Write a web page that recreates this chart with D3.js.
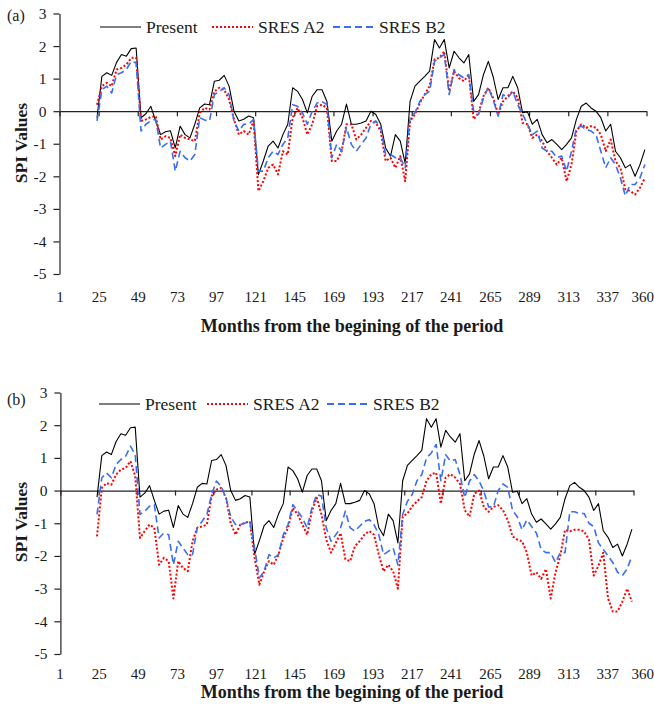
<!DOCTYPE html>
<html>
<head>
<meta charset="utf-8">
<script src="https://cdn.jsdelivr.net/npm/d3@7"></script>
<style>
  body { margin: 0; background: #fff; }
  svg text { font-family: "Liberation Serif", "DejaVu Serif", serif; fill: #1a1a1a; }
</style>
</head>
<body>
<div id="chart"></div>
<script>
// x grid: every third month, from month 24 to month 360
const months = d3.range(24, 361, 3);

const tickMonths = [1, 25, 49, 73, 97, 121, 145, 169, 193, 217, 241, 265, 289, 313, 337, 361];
const tickLabels = ["1", "25", "49", "73", "97", "121", "145", "169", "193", "217", "241", "265", "289", "313", "337", "360"];
const yTicks = [-5, -4, -3, -2, -1, 0, 1, 2, 3];

// SPI, present climate (same in both panels)
const present = [
  -0.2, 1.07, 1.18, 1.1, 1.5, 1.74, 1.69, 1.92, 1.94, -0.2,
  -0.08, 0.15, -0.3, -0.72, -0.63, -0.6, -1.13, -0.46, -0.72, -0.82,
  -0.4, 0.1, 0.22, 0.2, 0.92, 0.95, 1.1, 0.77, 0.0, -0.3,
  -0.25, -0.15, -0.2, -1.95, -1.53, -1.07, -0.92, -1.13, -0.72, -0.4,
  0.72, 0.61, 0.36, -0.05, 0.46, 0.66, 0.66, 0.3, -0.92, -0.61,
  -0.4, 0.22, -0.4, -0.4, -0.36, -0.3, 0.0, -0.1, -0.4, -1.13,
  -1.38, -0.72, -0.92, -1.6, 0.3, 0.77, 0.92, 1.07, 1.23, 2.2,
  1.94, 2.2, 1.33, 1.84, 1.64, 1.48, 1.74, 0.3, 0.51, 1.12,
  1.53, 1.05, 0.36, 0.72, 0.72, 1.07, 0.72, -0.05, -0.02, -0.4,
  -0.25, -0.72, -0.97, -0.87, -1.02, -1.18, -1.02, -0.82, -0.25, 0.15,
  0.25, 0.1, 0.0, -0.2, -0.61, -0.4, -1.23, -1.43, -1.74, -1.64,
  -2.0, -1.64, -1.18
];

// panel (a)
const a2PanelA = [
  0.2, 0.77, 0.87, 0.77, 1.28, 1.33, 1.43, 1.64, 1.64, -0.3,
  -0.25, -0.18, -0.15, -0.87, -0.77, -0.82, -1.38, -0.72, -0.82, -0.87,
  -0.92, -0.05, 0.1, 0.05, 0.61, 0.72, 0.66, 0.36, -0.25, -0.72,
  -0.61, -0.72, -0.3, -2.45, -2.15, -1.74, -1.64, -1.94, -1.23, -1.33,
  -0.2, 0.1, -0.2, -0.72, -0.4, 0.15, 0.2, 0.1, -1.53, -1.53,
  -1.23, -0.4, -0.4, -0.87, -0.72, -0.51, -0.3, -0.36, -0.61, -1.53,
  -1.43, -1.74, -1.38, -2.15, -0.3, -0.1, 0.25, 0.51, 0.77, 1.59,
  1.64, 1.84, 0.61, 1.23, 1.02, 0.92, 1.12, -0.25, -0.05, 0.46,
  0.72, 0.4, -0.1, 0.3, 0.46, 0.61, 0.41, -0.36, -0.4, -0.82,
  -0.72, -0.92, -1.23, -1.43, -1.64, -1.43, -2.15, -1.64, -0.61, -0.4,
  -0.51, -0.46, -0.51, -0.72, -1.23, -0.87, -1.53, -1.74, -2.4, -2.45,
  -2.56, -2.35, -2.05
];
const b2PanelA = [
  -0.3, 0.66, 0.77, 0.56, 1.12, 1.18, 1.28, 1.53, 1.48, -0.61,
  -0.4, -0.3, -0.25, -1.13, -1.02, -0.92, -1.84, -1.23, -1.43, -1.53,
  -1.33, -0.2, -0.27, -0.3, 0.51, 0.61, 0.72, 0.51, -0.3, -0.61,
  -0.4, -0.4, -0.25, -1.84, -1.84, -1.43, -1.23, -1.33, -1.02, -0.82,
  0.2, 0.15, -0.05, -0.4, 0.0, 0.25, 0.3, 0.2, -1.43, -1.02,
  -1.23, -0.5, -1.02, -1.23, -1.02, -0.82, -0.4, -0.3, -0.51, -1.33,
  -1.33, -1.43, -1.43, -1.74, -0.2, -0.05, 0.3, 0.51, 0.61, 1.53,
  1.64, 1.74, 0.51, 1.28, 1.12, 1.02, 1.12, 0.0, -0.1, 0.41,
  0.72, 0.35, -0.15, 0.51, 0.41, 0.61, 0.2, -0.1, -0.4, -0.72,
  -0.61, -1.13, -1.23, -1.23, -1.43, -1.38, -1.84, -1.23, -0.51, -0.46,
  -0.56, -0.61, -0.72, -1.23, -1.74, -1.43, -1.64, -2.05, -2.6, -2.25,
  -2.25, -2.05, -1.64
];

// panel (b)
const a2PanelB = [
  -1.4, 0.08, 0.23, 0.18, 0.49, 0.64, 0.69, 0.9, 0.44, -1.45,
  -1.24, -1.04, -1.14, -2.27, -2.06, -2.16, -3.3, -2.16, -2.37, -2.47,
  -1.55, -1.14, -1.1, -1.04, -0.17, 0.03, 0.08, -0.22, -1.0, -1.35,
  -1.04, -0.99, -0.94, -2.06, -2.88, -2.47, -2.16, -2.27, -1.96, -1.45,
  -1.14, -0.53, -0.73, -1.04, -1.35, -0.63, -0.22, -0.73, -1.5, -1.9,
  -1.6, -1.3, -2.1, -2.16, -1.7, -1.55, -1.35, -1.24, -1.35, -1.96,
  -2.47, -2.27, -2.47, -3.0, -0.8, -0.7, -0.48, -0.33, -0.2, 0.3,
  0.5, 0.55, -0.4, 0.4, 0.5, 0.4, 0.2, -0.6, -0.8, -0.1,
  0.0, -0.5, -0.65, -0.5, -0.45, -0.6, -0.9, -1.4, -1.5, -1.55,
  -1.9, -2.6, -2.5, -2.7, -2.4, -3.3, -2.5, -2.0, -1.2, -1.25,
  -1.2, -1.2, -1.25, -1.5, -2.6, -2.3, -1.9, -3.3, -3.7, -3.7,
  -3.4, -3.0, -3.4
];
const b2PanelB = [
  -0.73, 0.39, 0.54, 0.39, 0.8, 0.95, 1.05, 1.36, 1.1, -0.73,
  -0.63, -0.48, -0.43, -1.45, -1.3, -1.35, -2.27, -1.55, -1.76, -1.96,
  -1.96, -1.14, -0.94, -0.73, -0.12, 0.29, 0.13, -0.22, -0.8, -1.04,
  -1.04, -0.99, -0.94, -1.76, -2.67, -2.47, -1.96, -2.06, -1.96, -1.35,
  -1.04, -0.43, -0.63, -0.84, -1.14, -0.53, -0.12, -0.17, -1.14, -1.55,
  -1.35, -1.14, -0.63, -1.14, -1.24, -1.09, -0.94, -0.89, -1.04, -1.35,
  -1.96, -1.86, -1.76, -2.27, -0.73, -0.33, -0.12, 0.3, 0.49, 1.0,
  1.15, 1.41, 0.3, 1.1, 0.9, 0.95, 0.49, -0.22, 0.29, 0.49,
  0.29, -0.02, -0.5, -0.5, 0.0, 0.2, 0.1, -0.6, -0.8, -1.2,
  -0.9, -1.1, -1.3, -1.8, -1.9, -1.9, -2.2, -1.9, -1.9, -0.65,
  -0.65, -0.7, -0.7, -1.0, -1.1, -1.6, -1.8, -2.0, -2.2, -2.5,
  -2.6, -2.4, -2.0
];

const seriesNames = ["Present", "SRES A2", "SRES B2"];

const width = 654, height = 708;

const svg = d3.select("#chart").append("svg")
    .attr("width", width)
    .attr("height", height);

// x scale of the upper panel is also used to place the tick labels of both panels
const xLabelScale = d3.scaleLinear().domain([1, 361]).range([59.5, 646.5]);

const styles = [
    {color: "#000000", width: 1.1, dash: null},
    {color: "#ff0000", width: 2, dash: "2,2"},
    {color: "#3a6ef2", width: 1.6, dash: "7,4"}
];

function drawPanel(p) {
    const x = d3.scaleLinear().domain([1, 361]).range(p.xRange);
    const y = d3.scaleLinear().domain([-5, 3]).range(p.yRange);
    const g = svg.append("g");

    // y axis
    g.append("g")
        .attr("transform", "translate(" + p.xRange[0] + ",0)")
        .call(d3.axisLeft(y).tickValues(yTicks).tickSize(6).tickSizeOuter(0)
            .tickPadding(7).tickFormat(function(d) { return String(d); }))
        .call(function(ax) {
            ax.selectAll("text").style("font-size", "15.5px");
            ax.selectAll("line, path").attr("stroke", "#222").attr("stroke-width", 1.2);
        });

    // zero line with month ticks
    g.append("g")
        .attr("transform", "translate(0," + y(0) + ")")
        .call(d3.axisBottom(x).tickValues(tickMonths).tickSize(5).tickSizeOuter(0).tickFormat(""))
        .call(function(ax) {
            ax.selectAll("line, path").attr("stroke", "#222").attr("stroke-width", 1.2);
        });

    // month labels under the plot
    const last = tickMonths.length - 1;
    g.append("g")
        .attr("transform", "translate(0," + p.labelY + ")")
        .call(d3.axisBottom(xLabelScale).tickValues(tickMonths).tickSize(0).tickPadding(3)
            .tickFormat(function(d, i) { return tickLabels[i]; }))
        .call(function(ax) {
            ax.select(".domain").remove();
            ax.selectAll("text")
                .style("font-size", "15px")
                .attr("text-anchor", function(d, i) { return i == last ? "end" : "middle"; })
                .attr("dx", function(d, i) { return i == last ? 7 : 0; });
        });

    const line = d3.line()
        .x(function(d) { return x(d.m); })
        .y(function(d) { return y(d.v); });

    p.series.forEach(function(vals, i) {
        const pts = months.map(function(m, k) { return {m: m, v: vals[k]}; });
        g.append("path")
            .datum(pts)
            .attr("fill", "none")
            .attr("stroke", styles[i].color)
            .attr("stroke-width", styles[i].width)
            .attr("stroke-dasharray", styles[i].dash)
            .attr("stroke-linejoin", "round")
            .attr("d", line);
    });

    // legend
    const lg = g.append("g");
    seriesNames.forEach(function(name, i) {
        const lx = p.legendX[i];
        lg.append("line")
            .attr("x1", lx).attr("x2", lx + 41)
            .attr("y1", p.legendY).attr("y2", p.legendY)
            .attr("stroke", styles[i].color)
            .attr("stroke-width", i == 0 ? 1.2 : 2)
            .attr("stroke-dasharray", styles[i].dash);
        lg.append("text")
            .attr("x", lx + 46)
            .attr("y", p.legendY + 6)
            .style("font-size", "17.5px")
            .text(name);
    });

    // panel letter
    g.append("text")
        .attr("x", 7)
        .attr("y", p.letterY)
        .style("font-size", "16px")
        .text(p.letter);

    // axis titles
    g.append("text")
        .attr("transform", "translate(27," + p.yTitleY + ") rotate(-90)")
        .attr("text-anchor", "middle")
        .style("font-size", "17.5px")
        .style("font-weight", "bold")
        .text("SPI Values");

    g.append("text")
        .attr("x", 352)
        .attr("y", p.xTitleY)
        .attr("text-anchor", "middle")
        .style("font-size", "18px")
        .style("font-weight", "bold")
        .text("Months from the begining of the period");
}

drawPanel({
    letter: "(a)", letterY: 21,
    xRange: [59.5, 646.5], yRange: [274, 13.5],
    series: [present, a2PanelA, b2PanelA],
    labelY: 288, xTitleY: 332, yTitleY: 143,
    legendX: [100, 212, 333], legendY: 27
});

drawPanel({
    letter: "(b)", letterY: 405,
    xRange: [60.4, 633.5], yRange: [654, 392.5],
    series: [present, a2PanelB, b2PanelB],
    labelY: 665, xTitleY: 698, yTitleY: 522,
    legendX: [99, 207, 327], legendY: 404
});
</script>
</body>
</html>
